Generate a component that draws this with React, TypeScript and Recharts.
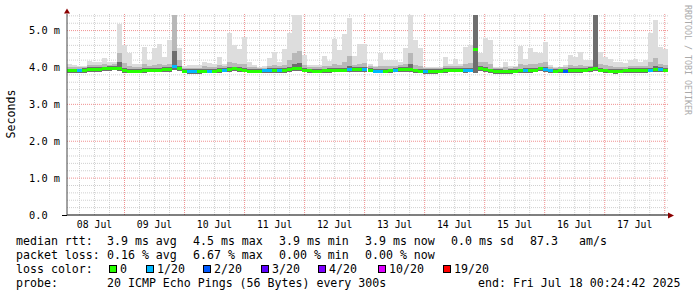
import React from "react";
import { ComposedChart, Bar, Cell, XAxis, YAxis, ReferenceLine } from "recharts";

// 120 consolidated samples, 2h each, 08 Jul 01:00 -> 18 Jul 00:24 (values in ms)
const median = [
  3.91, 3.91, 3.91, 3.92, 3.94, 3.95, 3.95, 3.96, 3.97, 3.98,
  3.96, 3.92, 3.90, 3.90, 3.90, 3.92, 3.93, 3.93, 3.93, 3.94,
  3.94, 4.02, 3.97, 3.90, 3.89, 3.89, 3.89, 3.90, 3.90, 3.90,
  3.92, 3.93, 3.95, 3.96, 3.95, 3.93, 3.90, 3.90, 3.90, 3.91,
  3.92, 3.92, 3.92, 3.92, 3.94, 3.96, 3.96, 3.93, 3.91, 3.90,
  3.90, 3.91, 3.92, 3.93, 3.93, 3.93, 3.94, 3.94, 3.95, 3.95,
  3.93, 3.90, 3.90, 3.90, 3.91, 3.93, 3.95, 3.95, 3.94, 3.91,
  3.90, 3.89, 3.89, 3.89, 3.90, 3.92, 3.93, 3.93, 3.93, 3.92,
  3.93, 4.50, 3.97, 3.95, 3.91, 3.89, 3.89, 3.88, 3.89, 3.90,
  3.91, 3.92, 3.92, 3.93, 3.96, 3.94, 3.91, 3.90, 3.91, 3.90,
  3.92, 3.92, 3.92, 3.93, 3.94, 3.97, 3.93, 3.91, 3.90, 3.89,
  3.90, 3.91, 3.92, 3.92, 3.92, 3.92, 3.93, 3.95, 3.94, 3.93,
];

// lost pings out of 20 per sample
const loss = [
  0, 0, 1, 0, 0, 0, 0, 0, 0, 0,
  0, 0, 0, 0, 0, 0, 0, 0, 0, 0,
  0, 1, 0, 0, 1, 1, 0, 0, 1, 0,
  0, 1, 0, 0, 0, 0, 0, 0, 0, 1,
  1, 0, 1, 0, 0, 0, 0, 0, 0, 0,
  0, 0, 0, 0, 0, 0, 1, 0, 0, 1,
  0, 1, 1, 0, 0, 1, 0, 0, 0, 0,
  0, 1, 0, 0, 0, 0, 0, 0, 0, 1,
  1, 0, 0, 0, 0, 0, 0, 0, 0, 0,
  0, 1, 0, 0, 0, 1, 1, 0, 0, 2,
  0, 0, 0, 0, 0, 0, 0, 0, 0, 0,
  0, 0, 0, 0, 0, 0, 1, 0, 1, 0,
];

const smokeLow = [
  3.85, 3.85, 3.85, 3.86, 3.88, 3.89, 3.89, 3.90, 3.91, 3.92,
  3.90, 3.86, 3.84, 3.84, 3.84, 3.86, 3.87, 3.87, 3.87, 3.88,
  3.88, 3.94, 3.90, 3.84, 3.83, 3.83, 3.83, 3.84, 3.84, 3.84,
  3.86, 3.87, 3.89, 3.90, 3.89, 3.87, 3.84, 3.84, 3.84, 3.85,
  3.86, 3.86, 3.86, 3.86, 3.88, 3.90, 3.90, 3.87, 3.85, 3.84,
  3.84, 3.85, 3.86, 3.87, 3.87, 3.87, 3.88, 3.88, 3.89, 3.89,
  3.87, 3.84, 3.84, 3.84, 3.85, 3.87, 3.89, 3.89, 3.88, 3.85,
  3.84, 3.83, 3.83, 3.83, 3.84, 3.86, 3.87, 3.87, 3.87, 3.86,
  3.87, 3.86, 3.90, 3.89, 3.85, 3.83, 3.83, 3.82, 3.83, 3.84,
  3.85, 3.86, 3.86, 3.87, 3.90, 3.88, 3.85, 3.84, 3.85, 3.84,
  3.86, 3.86, 3.86, 3.87, 3.88, 3.91, 3.87, 3.85, 3.84, 3.83,
  3.84, 3.85, 3.86, 3.86, 3.86, 3.86, 3.87, 3.89, 3.88, 3.87,
];

const smokeDark = [
  3.97, 3.97, 3.97, 3.98, 4.00, 4.01, 4.01, 4.02, 4.03, 4.04,
  4.15, 3.98, 3.96, 3.96, 3.96, 3.98, 3.99, 3.99, 3.99, 4.00,
  4.00, 4.45, 4.05, 3.96, 3.95, 3.95, 3.95, 3.96, 3.96, 3.96,
  3.98, 3.99, 4.01, 4.02, 4.01, 3.99, 3.96, 3.96, 3.96, 3.97,
  3.98, 3.98, 3.98, 3.98, 4.00, 4.10, 4.12, 3.99, 3.97, 3.96,
  3.96, 3.97, 3.98, 3.99, 3.99, 3.99, 4.05, 4.00, 4.01, 4.01,
  3.99, 3.96, 3.96, 3.96, 3.97, 3.99, 4.01, 4.01, 4.10, 3.97,
  3.96, 3.95, 3.95, 3.95, 3.96, 3.98, 3.99, 3.99, 3.99, 3.98,
  3.99, 5.42, 4.03, 4.01, 3.97, 3.95, 3.95, 3.94, 3.95, 3.96,
  3.97, 3.98, 3.98, 3.99, 4.02, 4.00, 3.97, 3.96, 3.97, 3.96,
  3.98, 3.98, 3.98, 3.99, 4.00, 5.42, 3.99, 3.97, 3.96, 3.95,
  3.96, 3.97, 3.98, 3.98, 3.98, 3.98, 3.99, 4.05, 4.00, 3.99,
];

const smokeMid = [
  4.02, 4.01, 4.01, 4.02, 4.06, 4.07, 4.07, 4.10, 4.08, 4.10,
  4.40, 4.12, 4.05, 4.00, 4.00, 4.10, 4.05, 4.08, 4.10, 4.08,
  4.10, 5.42, 4.20, 3.99, 3.99, 3.99, 3.99, 4.03, 4.02, 4.01,
  4.06, 4.03, 4.15, 4.12, 4.10, 4.10, 4.02, 4.00, 3.98, 3.99,
  4.05, 4.08, 4.04, 4.08, 4.20, 4.40, 4.45, 4.06, 4.01, 4.00,
  4.00, 4.04, 4.05, 4.10, 4.08, 4.15, 4.30, 4.08, 4.10, 4.12,
  4.03, 4.00, 4.05, 4.03, 4.03, 4.05, 4.06, 4.10, 4.40, 4.08,
  4.05, 3.98, 3.98, 3.98, 3.99, 4.05, 4.03, 4.05, 4.03, 4.10,
  4.12, 5.42, 4.15, 4.15, 4.10, 3.98, 3.98, 4.02, 3.99, 4.00,
  4.10, 4.06, 4.10, 4.10, 4.12, 4.15, 4.01, 3.99, 4.00, 4.00,
  4.06, 4.05, 4.08, 4.04, 4.05, 5.42, 4.10, 4.06, 4.03, 4.02,
  4.02, 4.02, 4.05, 4.05, 4.03, 4.05, 4.15, 4.25, 4.10, 4.08,
];

const smokeMax = [
  4.10, 4.07, 4.05, 4.05, 4.17, 4.15, 4.15, 4.27, 4.15, 4.15,
  5.19, 4.60, 4.40, 4.10, 4.10, 4.56, 4.20, 4.53, 4.65, 4.29,
  4.74, 5.42, 4.52, 4.05, 4.08, 4.08, 4.08, 4.15, 4.12, 4.10,
  4.29, 4.10, 4.94, 4.60, 4.50, 4.83, 4.15, 4.06, 4.00, 4.03,
  4.25, 4.43, 4.15, 4.50, 4.94, 5.42, 5.42, 4.34, 4.06, 4.06,
  4.06, 4.31, 4.18, 4.76, 4.47, 4.91, 5.33, 4.31, 4.65, 4.65,
  4.09, 4.05, 4.40, 4.20, 4.20, 4.20, 4.15, 4.52, 5.42, 4.74,
  4.52, 4.02, 4.00, 4.00, 4.00, 4.29, 4.10, 4.22, 4.10, 4.56,
  4.60, 5.42, 4.38, 4.79, 4.74, 4.00, 4.00, 4.15, 4.05, 4.05,
  4.59, 4.22, 4.52, 4.43, 4.38, 4.70, 4.06, 4.00, 4.00, 4.06,
  4.34, 4.29, 4.43, 4.20, 4.20, 5.42, 4.43, 4.29, 4.22, 4.15,
  4.15, 4.12, 4.20, 4.22, 4.15, 4.20, 4.93, 5.30, 4.56, 4.50,
];

const dayLabels = ["08 Jul", "09 Jul", "10 Jul", "11 Jul", "12 Jul", "13 Jul", "14 Jul", "15 Jul", "16 Jul", "17 Jul"];
const yTicks = [0, 1, 2, 3, 4, 5];

const lossColors = ["#26ff00", "#00b8ff", "#0059ff", "#5e00ff", "#7e00ff", "#dd00ff", "#ff0000"];
const lossLabels = ["0", "1/20", "2/20", "3/20", "4/20", "10/20", "19/20"];

const rttStats = ["3.9 ms avg", "4.5 ms max", "3.9 ms min", "3.9 ms now", "0.0 ms sd", "87.3", "am/s"];
const lossStats = ["0.16 % avg", "6.67 % max", "0.00 % min", "0.00 % now"];

// time axis in hours from 08 Jul 00:00
const startHour = 1.0;
const endHour = 241.3;
const stepHours = (endHour - startHour) / median.length;
const dayNoons = dayLabels.map((_, i) => 12 + i * 24);
const midnights = Array.from({ length: 10 }, (_, i) => 24 * (i + 1));
const sixHours = Array.from({ length: 40 }, (_, i) => 6 * (i + 1)).filter((h) => h % 24 !== 0);
const minorY = Array.from({ length: 27 }, (_, i) => +(0.2 * (i + 1)).toFixed(1)).filter((v) => Math.abs(v - Math.round(v)) > 0.01);

const HALF = 0.04;

const data = median.map((m, i) => {
  const t1 = smokeLow[i];
  const t2 = Math.max(t1, m - HALF);
  const t3 = t2 + 2 * HALF;
  const t4 = Math.max(t3, smokeDark[i]);
  const t5 = Math.max(t4, smokeMid[i]);
  const t6 = Math.max(t5, smokeMax[i]);
  return {
    idx: i,
    hour: startHour + (i + 0.5) * stepHours,
    base: t1,
    darkLow: t2 - t1,
    med: t3 - t2,
    darkHigh: t4 - t3,
    mid: t5 - t4,
    light: t6 - t5,
    loss: loss[i],
  };
});

const mono = "DejaVu Sans Mono";

function YTick(props: any) {
  const v = props.payload.value;
  return (
    <text x={29} y={props.y} dy="0.36em" fontSize={10.3} fontFamily={mono} fill="#000">
      {v === 0 ? "0.0" : `${v.toFixed(1)} m`}
    </text>
  );
}

const statX = [107, 193, 279, 365, 451, 530, 579];
const boxX = [109, 146, 203, 261, 318, 378, 443];

export default function App() {
  return (
    <div style={{ position: "relative", width: 697, height: 297, background: "#fff" }}>
      <style>{`body{margin:0} .recharts-bar-rectangle path{shape-rendering:crispEdges}`}</style>
      <ComposedChart
        width={697}
        height={297}
        data={data}
        margin={{ top: 14, right: 29, bottom: 62, left: 0 }}
        barCategoryGap={0}
        barGap={0}
      >
        <XAxis
          xAxisId="time"
          dataKey="hour"
          type="number"
          domain={[startHour, endHour]}
          allowDataOverflow
          ticks={dayNoons}
          interval={0}
          tickFormatter={(h: number) => dayLabels[Math.round((h - 12) / 24)]}
          height={20}
          tickLine={false}
          tickSize={0}
          tickMargin={6}
          axisLine={{ stroke: "#000" }}
          tick={{ fontSize: 9.8, fontFamily: mono, fill: "#000" }}
        />
        <XAxis xAxisId="bars" dataKey="idx" hide height={0} />
        <YAxis
          domain={[0, 5.45]}
          allowDataOverflow
          ticks={yTicks}
          width={67}
          tickLine={false}
          axisLine={{ stroke: "#444" }}
          tick={<YTick />}
        />

        {minorY.map((v) => (
          <ReferenceLine key={"hy" + v} xAxisId="time" y={v} stroke="#d0d0d0" strokeDasharray="1 1" zIndex={-50} />
        ))}
        {sixHours.map((h) => (
          <ReferenceLine key={"vx" + h} xAxisId="time" x={h} stroke="#d0d0d0" strokeDasharray="1 1" zIndex={-50} />
        ))}
        {yTicks.filter((v) => v > 0).map((v) => (
          <ReferenceLine key={"my" + v} xAxisId="time" y={v} stroke="#f09090" strokeDasharray="1 1" zIndex={-40} />
        ))}
        {midnights.map((h) => (
          <ReferenceLine key={"mx" + h} xAxisId="time" x={h} stroke="#f09090" strokeDasharray="1 1" zIndex={-40} />
        ))}

        <Bar xAxisId="bars" dataKey="base" stackId="s" fill="transparent" isAnimationActive={false} />
        <Bar xAxisId="bars" dataKey="darkLow" stackId="s" fill="#6e6e6e" isAnimationActive={false} />
        <Bar xAxisId="bars" dataKey="med" stackId="s" isAnimationActive={false}>
          {data.map((d, i) => (
            <Cell key={i} fill={lossColors[d.loss]} />
          ))}
        </Bar>
        <Bar xAxisId="bars" dataKey="darkHigh" stackId="s" fill="#6e6e6e" isAnimationActive={false} />
        <Bar xAxisId="bars" dataKey="mid" stackId="s" fill="#b8b8b8" isAnimationActive={false} />
        <Bar xAxisId="bars" dataKey="light" stackId="s" fill="#dddddd" isAnimationActive={false} />
      </ComposedChart>

      <svg
        width={697}
        height={297}
        style={{ position: "absolute", left: 0, top: 0, pointerEvents: "none" }}
        fontFamily={mono}
      >
        <line x1={62} y1={215.5} x2={67} y2={215.5} stroke="#000" />
        <polygon points="668,212.5 674,215.5 668,218.5" fill="#8b0000" />
        <polygon points="64,13.5 67,8.5 70,13.5" fill="#8b0000" />
        <text x={15} y={114} transform="rotate(-90 15 114)" textAnchor="middle" fontSize={11.6} fill="#000">
          Seconds
        </text>
        <text x={685} y={5} transform="rotate(90 685 5)" fontSize={8.3} fill="#aaaaaa">
          RRDTOOL / TOBI OETIKER
        </text>

        <text x={16} y={244.5} fontSize={11.6} fill="#000">median rtt:</text>
        {rttStats.map((s, i) => (
          <text key={"r" + i} x={statX[i]} y={244.5} fontSize={11.6} fill="#000">{s}</text>
        ))}
        <text x={16} y={258.5} fontSize={11.6} fill="#000">packet loss:</text>
        {lossStats.map((s, i) => (
          <text key={"l" + i} x={statX[i]} y={258.5} fontSize={11.6} fill="#000">{s}</text>
        ))}
        <text x={16} y={272.7} fontSize={11.6} fill="#000">loss color:</text>
        {lossLabels.map((s, i) => (
          <g key={"c" + i}>
            <rect x={boxX[i] + 0.5} y={265.5} width={7} height={7} fill={lossColors[i]} stroke="#000" />
            <text x={boxX[i] + 11} y={272.7} fontSize={11.6} fill="#000">{s}</text>
          </g>
        ))}
        <text x={16} y={287} fontSize={11.6} fill="#000">probe:</text>
        <text x={107} y={287} fontSize={11.6} fill="#000">20 ICMP Echo Pings (56 Bytes) every 300s</text>
        <text x={478} y={287} fontSize={11.6} fill="#000">end: Fri Jul 18 00:24:42 2025</text>
      </svg>
    </div>
  );
}
